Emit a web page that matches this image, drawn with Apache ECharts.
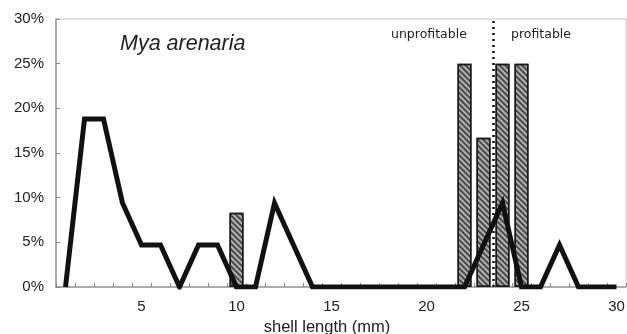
<!DOCTYPE html>
<html>
<head>
<meta charset="utf-8">
<script src="https://cdn.jsdelivr.net/npm/echarts@6/dist/echarts.min.js"></script>
<style>
html,body{margin:0;padding:0;background:#fff;}
#c{width:627px;height:334px;}
</style>
</head>
<body>
<div id="c"></div>
<script>
const categories = ['1','2','3','4','5','6','7','8','9','10','11','12','13','14','15','16','17','18','19','20','21','22','23','24','25','26','27','28','29','30'];
const lineValues = [0,18.8,18.8,9.4,4.7,4.7,0,4.7,4.7,0,0,9.4,4.7,0,0,0,0,0,0,0,0,0,4.7,9.4,0,0,4.7,0,0,0];
const barValues = [null,null,null,null,null,null,null,null,null,8.3,null,null,null,null,null,null,null,null,null,null,null,25,16.7,25,25,null,null,null,null,null];
const thresholdX = 23.5;
const titleText = 'Mya arenaria';
const leftNote = 'unprofitable';
const rightNote = 'profitable';
const xName = 'shell length (mm)';

const chart = echarts.init(document.getElementById('c'), null, {renderer:'canvas'});
const font = 'Liberation Sans, Arial, sans-serif';
chart.setOption({
  animation:false,
  backgroundColor:'#fff',
  grid:{left:56, right:1, top:19, bottom:47, show:true, borderColor:'#c4c4c4', borderWidth:1, outerBoundsMode:'none', containLabel:false},
  xAxis:[{
    type:'category', data:categories, boundaryGap:true,
    axisLine:{lineStyle:{color:'#999', width:1.5}},
    axisTick:{show:true, inside:true, length:4, interval:0, lineStyle:{color:'#888'}},
    axisLabel:{interval:function(i,v){return (+v)%5===0;}, color:'#222', fontSize:15, fontFamily:font, margin:12},
    name:xName, nameLocation:'middle', nameGap:32,
    nameTextStyle:{color:'#222', fontSize:16.5, fontFamily:font, padding:[0,28,0,0]}
  },{
    type:'value', min:0.5, max:30.5, show:false
  }],
  yAxis:{
    type:'value', min:0, max:30, interval:5,
    axisLine:{show:true, lineStyle:{color:'#999', width:1.5}},
    axisTick:{show:true, inside:true, length:4, lineStyle:{color:'#888'}},
    splitLine:{show:false},
    axisLabel:{formatter:'{value}%', color:'#222', fontSize:15, fontFamily:font, margin:12}
  },
  series:[{
    type:'bar', data:barValues, barWidth:14, xAxisIndex:0,
    itemStyle:{color:'#b0b0b0', borderColor:'#1a1a1a', borderWidth:1.5,
      decal:{symbol:'rect', dashArrayX:[1,0], dashArrayY:[1.5,1.5], rotation:Math.PI/4, color:'rgba(20,20,20,0.65)'}},
    z:2
  },{
    type:'line', data:lineValues, xAxisIndex:0, symbol:'none',
    lineStyle:{color:'#111', width:5, join:'miter'}, z:5
  },{
    type:'line', data:[], xAxisIndex:1,
    markLine:{silent:true, symbol:'none', label:{show:false},
      lineStyle:{type:[2,4], color:'#111', width:2.5},
      data:[{xAxis:thresholdX}]},
    z:4
  }],
  graphic:[
    {type:'text', left:120, top:33, style:{text:titleText, font:'italic 21.5px Liberation Sans, Arial, sans-serif', fill:'#222'}},
    {type:'text', left:391, top:28, style:{text:leftNote, font:'12.5px DejaVu Sans, sans-serif', fill:'#222'}},
    {type:'text', left:511, top:28, style:{text:rightNote, font:'12.5px DejaVu Sans, sans-serif', fill:'#222'}}
  ]
});
</script>
</body>
</html>
